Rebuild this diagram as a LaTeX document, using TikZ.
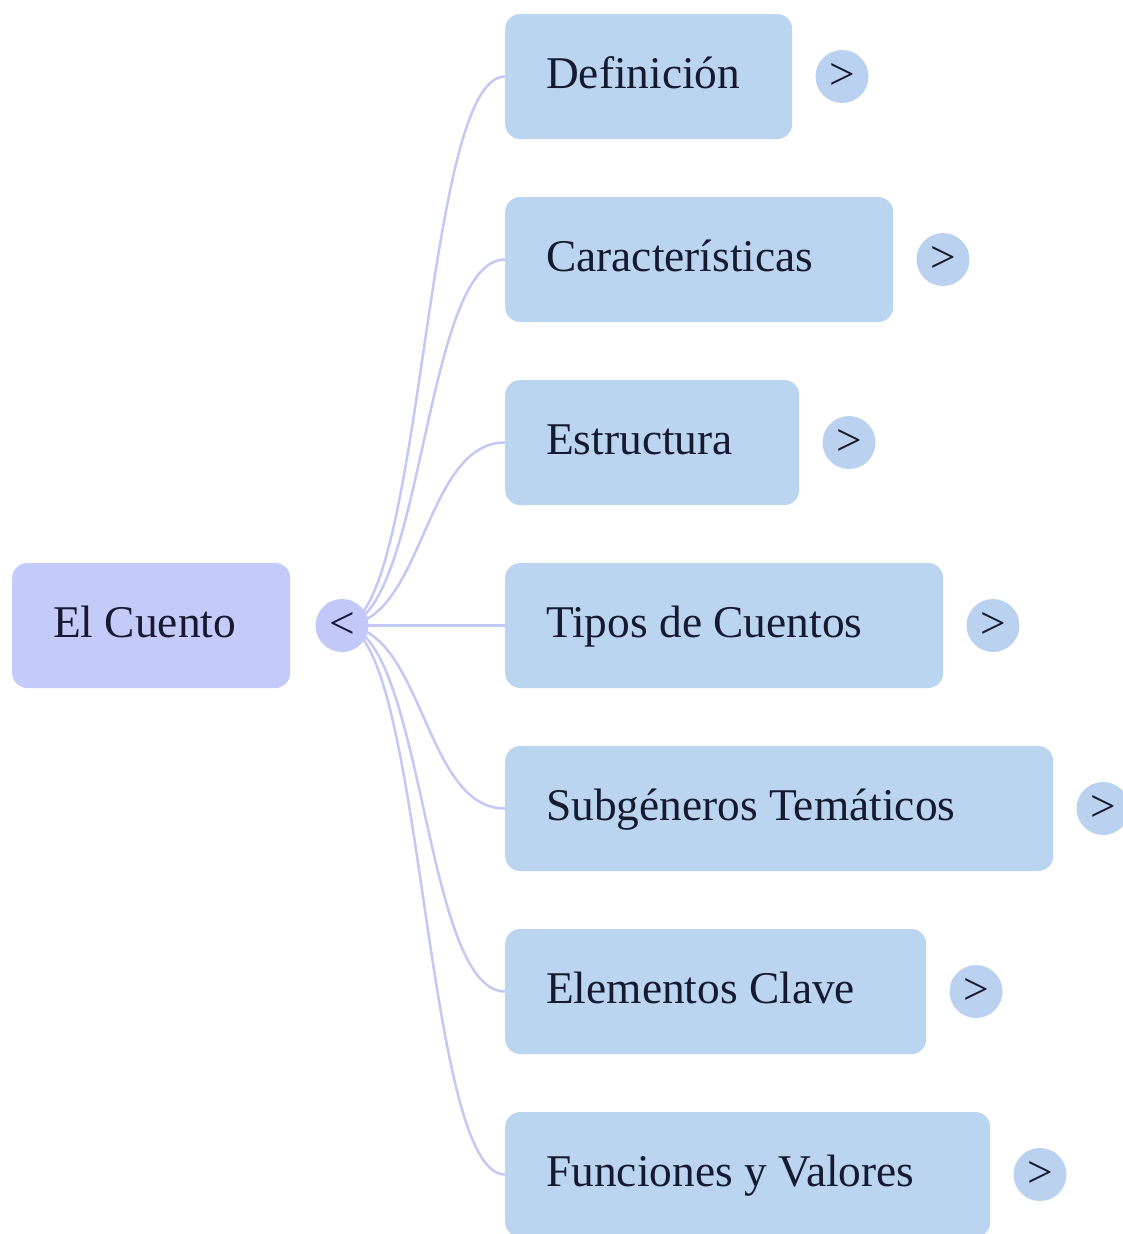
\documentclass[tikz,border=0pt]{standalone}
\usepackage{fontspec}
\setmainfont{Liberation Serif}
\definecolor{rootfill}{RGB}{197,203,248}
\definecolor{rootdot}{RGB}{194,200,247}
\definecolor{childfill}{RGB}{187,212,240}
\definecolor{childdot}{RGB}{186,210,239}
\definecolor{linkc}{RGB}{196,200,244}
\definecolor{txt}{RGB}{22,26,48}
\begin{document}
\begin{tikzpicture}[x=1pt,y=-1pt,
  box/.style={rounded corners=15pt, minimum height=125pt, inner sep=0pt, anchor=west},
  rootbox/.style={box, fill=rootfill},
  childbox/.style={box, fill=childfill},
  lbl/.style={font=\fontsize{45.4}{50}\selectfont, text=txt, anchor=base west, inner sep=0pt},
  dot/.style={circle, minimum size=53pt, inner sep=0pt, font=\fontsize{45.4}{50}\selectfont, text=txt},
  link/.style={draw=linkc, line width=2.5pt}]
\useasboundingbox (0,0) rectangle (1123,1234);
\clip (0,0) rectangle (1123,1234);
\node[rootbox, minimum width=278pt] (root) at (12,625.5) {};
\node[lbl] (roottext) at (53,637.5) {El Cuento};
\coordinate (rc) at (342,625.5);
\foreach \i/\t/\r/\y in {1/Definición/792/76.5, 2/Características/893/259.5, 3/Estructura/799/442.5, 4/Tipos de Cuentos/943/625.5, 5/Subgéneros Temáticos/1053/808.5, 6/Elementos Clave/926/991.5, 7/Funciones y Valores/990/1174.5} {
  \node[childbox, minimum width={(\r-505)*1pt}] (c\i) at (505,\y) {};
  \node[lbl] (t\i) at (546,\y+12) {\t};
  \node[dot, fill=childdot] (d\i) at (\r+50,\y) {>};
  \draw[link] (rc) .. controls +(82,0) and +(-82,0) .. (c\i.west);
}
\node[dot, fill=rootdot] (rdot) at (rc) {<};
\end{tikzpicture}
\end{document}
